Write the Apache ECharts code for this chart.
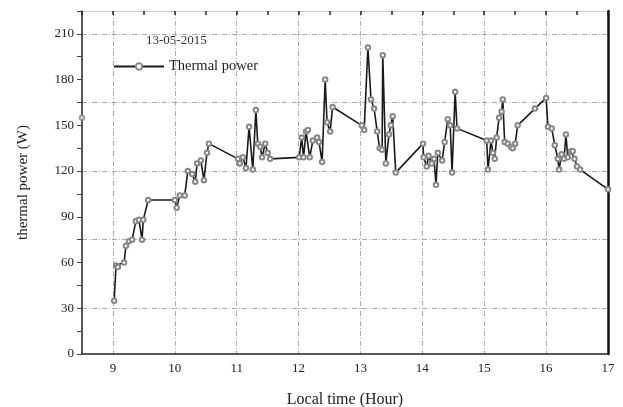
<!DOCTYPE html>
<html>
<head>
<meta charset="utf-8">
<script src="https://cdn.jsdelivr.net/npm/echarts@6/dist/echarts.min.js"></script>
<style>
  html, body { margin: 0; padding: 0; background: #fff; }
  #chart { width: 623px; height: 407px; }
</style>
</head>
<body>
<div id="chart"></div>
<script>
// local time (hour) and thermal power (W)
var hours = [9.02, 9.05, 9.08, 9.18, 9.21, 9.26, 9.31, 9.37, 9.42, 9.47, 9.49, 9.57,
    10.0, 10.03, 10.08, 10.16, 10.21, 10.28, 10.33, 10.36, 10.42, 10.47, 10.52, 10.55,
    11.02, 11.05, 11.1, 11.15, 11.2, 11.26, 11.31, 11.34, 11.38, 11.41, 11.46, 11.5, 11.54,
    12.01, 12.05, 12.08, 12.12, 12.15, 12.18, 12.23, 12.3, 12.33, 12.38, 12.43, 12.46, 12.51, 12.55,
    13.02, 13.06, 13.12, 13.17, 13.22, 13.27, 13.31, 13.35, 13.36, 13.41, 13.46, 13.49, 13.52, 13.57,
    14.01, 14.02, 14.07, 14.1, 14.15, 14.19, 14.22, 14.25, 14.32, 14.36, 14.41, 14.45, 14.48, 14.53, 14.56,
    15.04, 15.06, 15.11, 15.14, 15.17, 15.2, 15.24, 15.28, 15.3, 15.33, 15.38, 15.43, 15.46, 15.5, 15.54,
    15.82, 16.0, 16.03, 16.09, 16.14, 16.19, 16.21, 16.25, 16.29, 16.32, 16.35, 16.4, 16.43, 16.46, 16.5, 16.55,
    17.0];
var power = [35, 58, 57, 60, 71, 74, 75, 87, 88, 75, 88, 101,
    101, 96, 104, 104, 120, 118, 113, 125, 127, 114, 132, 138,
    128, 125, 129, 122, 149, 121, 160, 138, 136, 129, 138, 132, 128,
    129, 142, 129, 146, 147, 129, 140, 142, 139, 126, 180, 152, 146, 162,
    150, 147, 201, 167, 161, 146, 135, 134, 196, 125, 144, 150, 156, 119,
    138, 129, 123, 130, 125, 128, 111, 132, 127, 139, 154, 150, 119, 172, 148,
    140, 121, 140, 132, 128, 142, 155, 159, 167, 139, 138, 136, 135, 138, 150,
    161, 168, 149, 148, 137, 128, 121, 131, 128, 144, 129, 133, 133, 128, 123, 121,
    108];
// stray point on the left edge
var strayHours = [8.5];
var strayPower = [155];

var yLabels = [0, 30, 60, 90, 120, 150, 180, 210];

var chart = echarts.init(document.getElementById('chart'));
var serif = '"Liberation Serif", "DejaVu Serif", serif';
var gridDash = [5, 2, 1, 2];

var mainData = hours.map(function (h, i) { return [h, power[i]]; });
var strayData = strayHours.map(function (h, i) { return [h, strayPower[i]]; });

chart.setOption({
    animation: false,
    grid: { left: 82, right: 15, top: 11, bottom: 53, outerBoundsMode: 'none' },
    legend: {
        left: 108, top: 54,
        itemWidth: 50, itemHeight: 8,
        textStyle: { fontFamily: serif, fontSize: 14.5, color: '#222' },
        data: ['Thermal power']
    },
    graphic: [{
        type: 'text', left: 146, top: 34,
        style: { text: '13-05-2015', font: '13px ' + serif, fill: '#333' }
    }],
    xAxis: [{
        type: 'value', min: 8.5, max: 17, interval: 0.5,
        name: 'Local time (Hour)', nameLocation: 'middle', nameGap: 38,
        nameTextStyle: { fontFamily: serif, fontSize: 16, color: '#222' },
        axisLine: { onZero: false, lineStyle: { color: '#222', width: 1.5 } },
        axisTick: { show: false },
        axisLabel: {
            fontFamily: serif, fontSize: 13, color: '#222', margin: 8,
            formatter: function (v) { return v % 1 === 0 ? String(v) : ''; }
        },
        splitLine: { show: true, lineStyle: { color: ['rgba(0,0,0,0)', '#aaa'], type: gridDash } }
    }, {
        type: 'value', min: 8.5, max: 17, interval: 0.5, position: 'top',
        axisLine: { onZero: false, lineStyle: { color: '#ccc', width: 1 } },
        axisTick: { show: true, inside: true, length: 4, lineStyle: { color: '#222', width: 1.5 } },
        axisLabel: { show: false },
        splitLine: { show: false }
    }],
    yAxis: [{
        type: 'value', min: 0, max: 225, interval: 15,
        name: 'thermal power (W)', nameLocation: 'middle', nameGap: 51,
        nameTextStyle: { fontFamily: serif, fontSize: 15, color: '#222' },
        axisLine: { show: true, lineStyle: { color: '#222', width: 1.5 } },
        axisTick: { show: true, length: 5, lineStyle: { color: '#444' } },
        axisLabel: {
            fontFamily: serif, fontSize: 13, color: '#222', margin: 8,
            formatter: function (v) { return yLabels.indexOf(v) >= 0 ? String(v) : ''; }
        },
        splitLine: { show: true, lineStyle: { color: ['rgba(0,0,0,0)', 'rgba(0,0,0,0)', '#aaa'], type: gridDash } }
    }, {
        type: 'value', min: 0, max: 225, interval: 15, position: 'right',
        axisLine: { show: true, lineStyle: { color: '#111', width: 2.5 } },
        axisTick: { show: false },
        axisLabel: { show: false },
        splitLine: { show: false }
    }],
    series: [{
        name: 'Thermal power',
        type: 'line',
        data: mainData,
        symbol: 'emptyCircle',
        symbolSize: 4.5,
        itemStyle: { color: '#888', borderWidth: 1 },
        lineStyle: { color: '#1a1a1a', width: 1.6 }
    }, {
        name: 'stray',
        type: 'scatter',
        data: strayData,
        symbol: 'emptyCircle',
        symbolSize: 4.5,
        itemStyle: { color: '#888', borderWidth: 1 }
    }]
});
</script>
</body>
</html>
